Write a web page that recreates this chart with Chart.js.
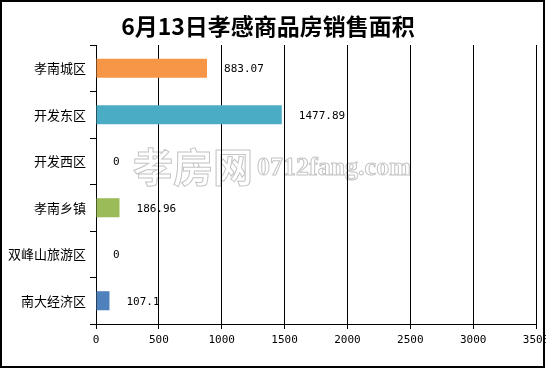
<!DOCTYPE html>
<html>
<head>
<meta charset="utf-8">
<script src="https://cdn.jsdelivr.net/npm/chart.js@4"></script>
<style>
html,body{margin:0;padding:0;background:#fff;}
#wrap{width:546px;height:369px;position:relative;overflow:hidden;}
</style>
</head>
<body>
<div id="wrap"><canvas id="c" width="546" height="369"></canvas></div>
<script>
const titleText = '6月13日孝感商品房销售面积';
const categories = ['孝南城区', '开发东区', '开发西区', '孝南乡镇', '双峰山旅游区', '南大经济区'];
const areaValues = [883.07, 1477.89, 0, 186.96, 0, 107.1];
const barColors = ['#F79646', '#4BACC6', '#4BACC6', '#9BBB59', '#9BBB59', '#4F81BD'];
const xTicks = [0, 500, 1000, 1500, 2000, 2500, 3000, 3500];
const watermarkCn = '孝房网';
const watermarkEn = '0712fang.com';

const watermarkPlugin = {
  id: 'watermark',
  beforeDraw(chart) {
    const ctx = chart.ctx;
    ctx.save();
    ctx.fillStyle = '#fff';
    ctx.fillRect(0, 0, chart.width, chart.height);
    ctx.strokeStyle = '#c4c4c4';
    ctx.lineWidth = 1;
    ctx.textBaseline = 'middle';
    ctx.textAlign = 'left';
    ctx.font = 'bold 40px "Noto Sans CJK SC"';
    ctx.strokeText(watermarkCn, 133, 167);
    ctx.font = 'bold 26px "Liberation Serif"';
    ctx.textBaseline = 'alphabetic';
    ctx.strokeText(watermarkEn, 257, 175);
    ctx.restore();
  }
};

const labelPlugin = {
  id: 'barLabels',
  afterDatasetsDraw(chart) {
    const ctx = chart.ctx;
    const meta = chart.getDatasetMeta(0);
    ctx.save();
    ctx.fillStyle = '#000';
    ctx.font = '11px "DejaVu Sans Mono"';
    ctx.textAlign = 'left';
    ctx.textBaseline = 'middle';
    meta.data.forEach((el, i) => {
      ctx.fillText(String(areaValues[i]), el.x + 17, el.y + 1);
    });
    ctx.restore();
  },
  afterDraw(chart) {
    const ctx = chart.ctx;
    ctx.save();
    ctx.strokeStyle = '#000';
    ctx.lineWidth = 2;
    ctx.strokeRect(1, 1, chart.width - 3, chart.height - 3);
    ctx.restore();
  }
};

new Chart(document.getElementById('c'), {
  type: 'bar',
  data: {
    labels: categories,
    datasets: [{
      data: areaValues,
      backgroundColor: barColors,
      borderWidth: 0,
      barPercentage: 1,
      categoryPercentage: 0.41
    }]
  },
  options: {
    indexAxis: 'y',
    responsive: false,
    animation: false,
    layout: { padding: { left: 0, right: 10, top: 0, bottom: 0 } },
    plugins: {
      legend: { display: false },
      tooltip: { enabled: false },
      title: {
        display: true,
        text: titleText,
        color: '#000',
        font: { family: '"Noto Sans CJK SC"', size: 23, weight: 'bold' },
        padding: { top: 12, bottom: 5.4 }
      }
    },
    scales: {
      x: {
        type: 'linear',
        min: 0,
        max: 3500,
        afterBuildTicks(s) { s.ticks = xTicks.map(v => ({ value: v })); },
        afterFit(s) { s.paddingLeft = 0; s.paddingRight = 0; s.height = 45; },
        grid: { color: '#000', lineWidth: 1, tickLength: 5, drawOnChartArea: true },
        border: { color: '#000', width: 1 },
        ticks: {
          color: '#000',
          padding: 5,
          maxRotation: 0,
          autoSkip: false,
          callback: v => String(v),
          font: { family: '"DejaVu Sans Mono"', size: 11 }
        }
      },
      y: {
        afterFit(s) { s.paddingTop = 0; s.paddingBottom = 0; s.width = 96; },
        grid: { color: '#000', lineWidth: 1, tickLength: 6, drawOnChartArea: false, offset: true },
        border: { color: '#000', width: 1 },
        ticks: {
          color: '#000',
          padding: 4,
          font: { family: '"Noto Sans CJK SC"', size: 13 }
        }
      }
    }
  },
  plugins: [watermarkPlugin, labelPlugin]
});
</script>
</body>
</html>
